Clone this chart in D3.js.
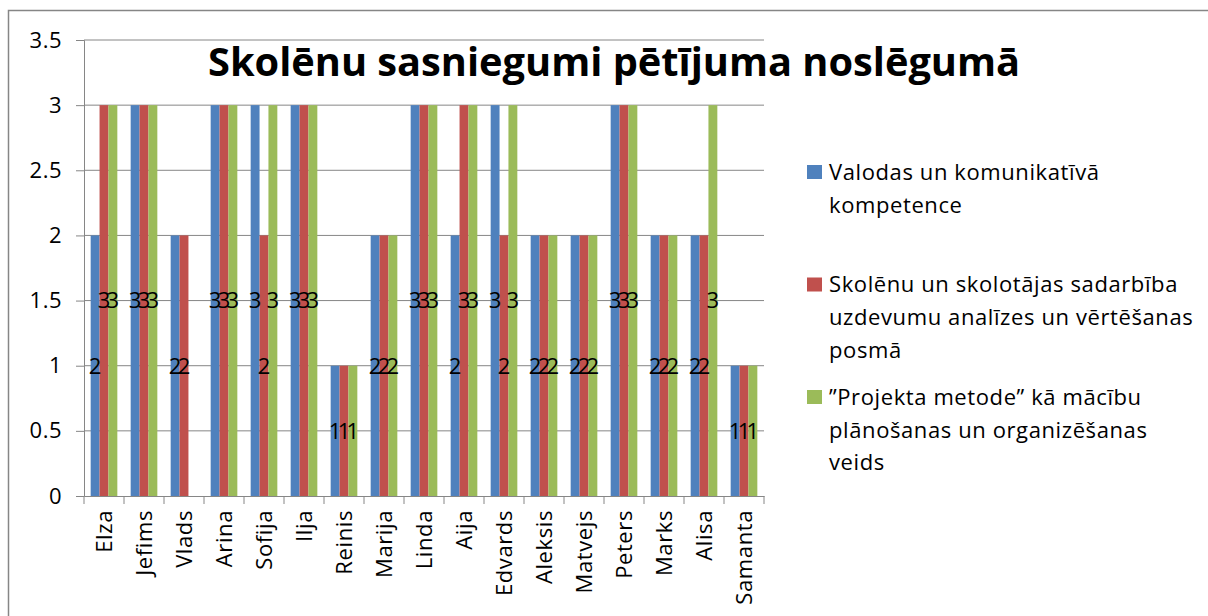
<!DOCTYPE html>
<html>
<head>
<meta charset="utf-8">
<script src="https://cdn.jsdelivr.net/npm/d3@7"></script>
<style>
  body { margin: 0; background: #fff; }
  text { font-family: "Open Sans", Lato, sans-serif; }
</style>
</head>
<body>
<div id="chart"></div>
<script>
// data
const students = ["Elza", "Jefims", "Vlads", "Arina", "Sofija", "Ilja", "Reinis", "Marija", "Linda",
  "Aija", "Edvards", "Aleksis", "Matvejs", "Peters", "Marks", "Alisa", "Samanta"];
const valodas   = [2, 3, 2, 3, 3, 3, 1, 2, 3, 2, 3, 2, 2, 3, 2, 2, 1];
const sadarbiba = [3, 3, 2, 3, 2, 3, 1, 2, 3, 3, 2, 2, 2, 3, 2, 2, 1];
const projekts  = [3, 3, 0, 3, 3, 3, 1, 2, 3, 3, 3, 2, 2, 3, 2, 3, 1];
const seriesKeys = ["valodas", "sadarbiba", "projekts"];
const legendLines = [
  ["Valodas un komunikatīvā", "kompetence"],
  ["Skolēnu un skolotājas sadarbība", "uzdevumu analīzes un vērtēšanas", "posmā"],
  ["”Projekta metode” kā mācību", "plānošanas un organizēšanas", "veids"]
];
const colors = ["#4F81BD", "#C0504D", "#9BBB59"];
const yTicks = [0, 0.5, 1, 1.5, 2, 2.5, 3, 3.5];
const title = "Skolēnu sasniegumi pētījuma noslēgumā";

const table = students.map((s, i) => ({ name: s, valodas: valodas[i], sadarbiba: sadarbiba[i], projekts: projekts[i] }));

const W = 1208, H = 616;
const plot = { left: 84, right: 764, top: 40, bottom: 496 };

const svg = d3.select("#chart").append("svg")
  .attr("width", W).attr("height", H);

// chart border (only top / left visible)
svg.append("rect")
  .attr("x", 8.5).attr("y", 10.5)
  .attr("width", W + 20).attr("height", H + 20)
  .attr("fill", "#fff").attr("stroke", "#868686").attr("stroke-width", 1.5);

const x = d3.scaleBand().domain(students).range([plot.left, plot.right]);
const xSub = d3.scaleBand().domain(seriesKeys)
  .range([x.bandwidth() * 0.75 / 4.5, x.bandwidth() * (1 - 0.75 / 4.5)]);
const y = d3.scaleLinear().domain([0, 3.5]).range([plot.bottom, plot.top]);

// gridlines
svg.append("g").selectAll("line").data(yTicks.filter(d => d > 0)).join("line")
  .attr("x1", plot.left).attr("x2", plot.right)
  .attr("y1", d => y(d)).attr("y2", d => y(d))
  .attr("stroke", "#868686").attr("stroke-width", 1);

// y axis
const yAxis = svg.append("g")
  .attr("transform", `translate(${plot.left},0)`)
  .call(d3.axisLeft(y).tickValues(yTicks).tickSize(8).tickPadding(14).tickFormat(d3.format("")));
yAxis.selectAll("line, path").attr("stroke", "#868686");
yAxis.selectAll("text").style("font-size", "22px").style("letter-spacing", "0.5px").attr("fill", "#000");

// bars
const groups = svg.append("g").selectAll("g").data(table).join("g")
  .attr("transform", d => `translate(${x(d.name)},0)`);
groups.selectAll("rect")
  .data(d => seriesKeys.map((k, i) => ({ key: k, i: i, value: d[k] })))
  .join("rect")
  .attr("x", d => xSub(d.key))
  .attr("width", xSub.bandwidth())
  .attr("y", d => y(d.value))
  .attr("height", d => y(0) - y(d.value))
  .attr("fill", d => colors[d.i]);

// data labels at bar centre
groups.selectAll("text")
  .data(d => seriesKeys.map((k, i) => ({ key: k, i: i, value: d[k] })).filter(e => e.value > 0))
  .join("text")
  .attr("x", d => xSub(d.key) + xSub.bandwidth() / 2)
  .attr("y", d => y(d.value / 2))
  .attr("dy", "0.36em")
  .attr("text-anchor", "middle")
  .style("font-size", "22px")
  .attr("fill", "#000")
  .text(d => d.value);

// x axis
const xAxis = svg.append("g")
  .attr("transform", `translate(0,${plot.bottom})`)
  .call(d3.axisBottom(x).tickSize(0).tickPadding(0));
xAxis.select(".domain").attr("stroke", "#868686");
xAxis.append("g").selectAll("line").data(d3.range(students.length + 1)).join("line")
  .attr("x1", i => plot.left + i * x.step()).attr("x2", i => plot.left + i * x.step())
  .attr("y1", 0).attr("y2", 8)
  .attr("stroke", "#868686");
xAxis.selectAll(".tick text")
  .attr("transform", "rotate(-90)")
  .attr("x", -14).attr("y", 0).attr("dy", "0.36em")
  .attr("text-anchor", "end")
  .style("font-size", "22px")
  .style("letter-spacing", "0.6px")
  .attr("fill", "#000");

// title
svg.append("text")
  .attr("x", 614).attr("y", 76)
  .attr("text-anchor", "middle")
  .style("font-size", "40px").style("font-weight", "bold")
  .attr("textLength", 812).attr("lengthAdjust", "spacingAndGlyphs")
  .text(title);

// legend
const legend = svg.append("g").attr("transform", "translate(807,172)");
const item = legend.selectAll("g").data(legendLines).join("g")
  .attr("transform", (d, i) => `translate(0,${i * 112.5})`);
item.append("rect")
  .attr("x", 0).attr("y", -7).attr("width", 15).attr("height", 14)
  .attr("fill", (d, i) => colors[i]);
item.append("text")
  .style("font-size", "22px")
  .style("letter-spacing", "0.6px")
  .selectAll("tspan").data(d => d).join("tspan")
  .attr("x", 22).attr("y", (d, j) => j * 32.7).attr("dy", "0.36em")
  .text(d => d);
</script>
</body>
</html>
